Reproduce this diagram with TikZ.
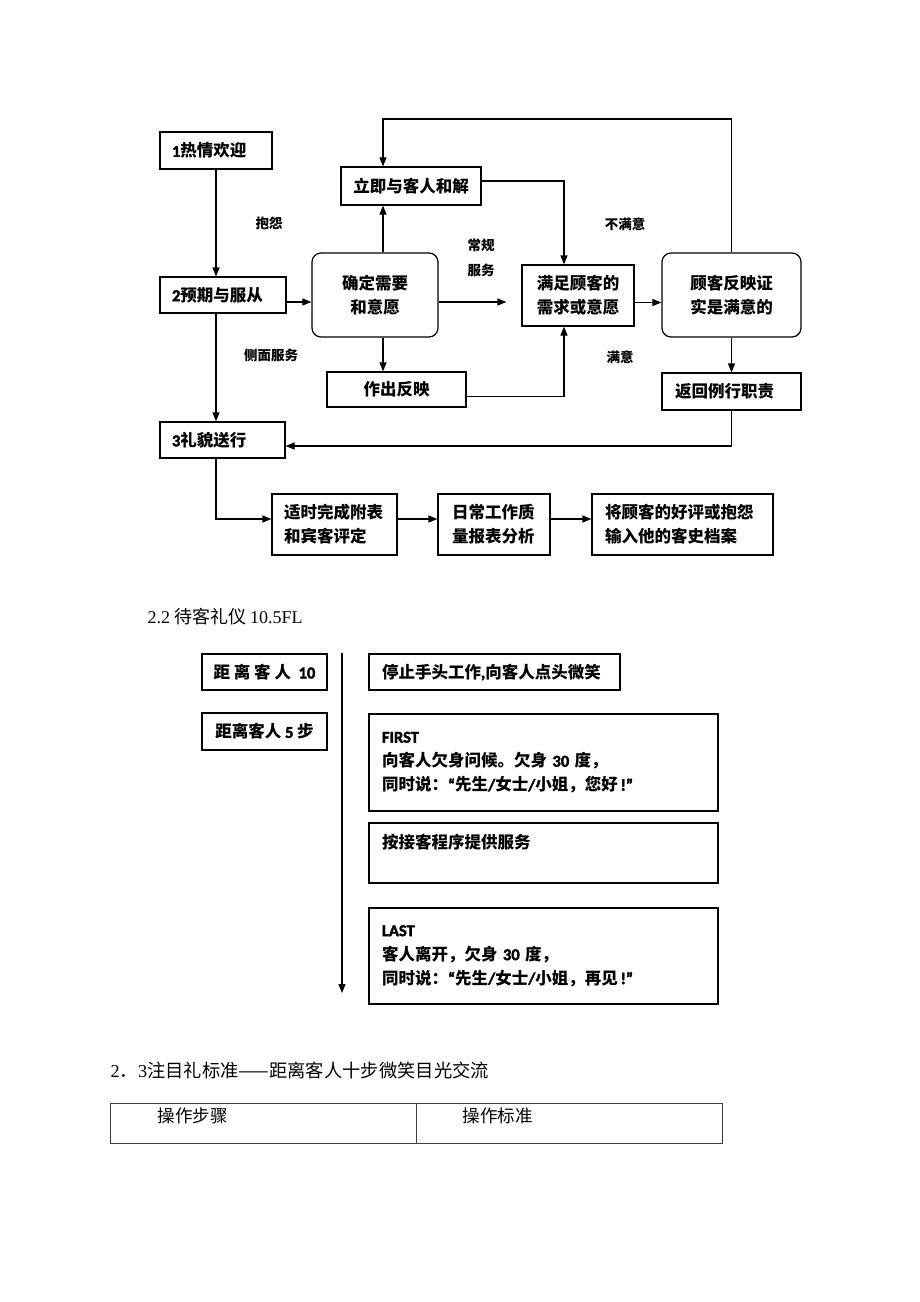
\documentclass[tikz,border=0pt]{standalone}
\usepackage{fontspec}
\setmainfont{Noto Sans CJK SC}
\newfontfamily\lat{Carlito}[FakeBold=2.2]
\newfontfamily\tnr{Liberation Serif}
\usetikzlibrary{arrows.meta}

\begin{document}
\begin{tikzpicture}[x=1pt,y=-1pt,>={Stealth[length=9pt,width=7pt,inset=0pt]},line width=1.2pt,
  box/.style={draw,inner sep=0pt,align=center,font=\fontsize{16.5}{24}\selectfont\bfseries},
  rbox/.style={box,rounded corners=9pt},
  lbox/.style={box,align=left,inner xsep=12pt},
  note/.style={inner sep=0pt,align=left,font=\fontsize{13.5}{25}\selectfont\bfseries},
  head/.style={inner sep=0pt,anchor=west,font=\fontsize{18.3}{22}\selectfont}]
\useasboundingbox (0,0) rectangle (920,1302);
\node[lbox,text width=88,minimum height=37] (welcome) at (216,150.5) {{\lat 1}热情欢迎};
\node[lbox,text width=102,minimum height=36] (obey) at (223,295) {{\lat 2}预期与服从};
\node[lbox,text width=101,minimum height=36] (polite) at (222.5,440) {{\lat 3}礼貌送行};
\node[rbox,minimum width=126,minimum height=84] (need) at (375,295) {确定需要\\和意愿};
\node[box,minimum width=140,minimum height=38] (reconcile) at (411,186) {立即与客人和解};
\node[box,minimum width=139,minimum height=35] (respond) at (396.5,389.5) {作出反映};
\node[box,minimum width=112,minimum height=61] (satisfy) at (578,295.5) {满足顾客的\\需求或意愿};
\node[rbox,minimum width=139,minimum height=84] (confirm) at (731.5,295) {顾客反映证\\实是满意的};
\node[lbox,inner xsep=13pt,text width=113,minimum height=37] (back) at (731.5,391.5) {返回例行职责};
\node[note] (complain) at (269,223) {抱怨};
\node[note] (routine) at (481,258) {常规\\服务};
\node[note] (side) at (271,355) {侧面服务};
\node[note] (unsat) at (625,224) {不满意};
\node[note] (sat) at (620,357) {满意};
\node[lbox,text width=101,minimum height=61] (fill) at (334.5,524.5) {适时完成附表\\和宾客评定};
\node[lbox,inner xsep=14pt,text width=84,minimum height=61] (daily) at (494,524.5) {日常工作质\\量报表分析};
\node[lbox,inner xsep=13pt,text width=155,minimum height=61] (record) at (682.5,524.5) {将顾客的好评或抱怨\\输入他的客史档案};
\coordinate (loop) at (383,119);
\draw[->] (welcome) -- (welcome |- obey.north);
\draw[->] ([yshift=-7pt]obey.east) -- ([yshift=-7pt]obey.east -| need.west);
\draw[->,shorten >=15pt] ([yshift=-7pt]need.east) -- ([yshift=-7pt]need.east -| satisfy.west);
\draw[->] ([yshift=-7pt]satisfy.east) -- ([yshift=-7pt]satisfy.east -| confirm.west);
\draw[->] ([xshift=8pt]need.north) -- ([xshift=8pt]need.north |- reconcile.south);
\draw[->] ([xshift=8pt]need.south) -- ([xshift=8pt]need.south |- respond.north);
\draw[->] ([yshift=5pt]reconcile.east) -| ([xshift=-14pt]satisfy.north);
\draw[->] ([yshift=-7pt]respond.east) -| ([xshift=-14pt]satisfy.south);
\draw[->] (confirm.north) |- (loop) -- (loop |- reconcile.north);
\draw[->] (confirm.south) -- (back.north);
\draw[->] (back.south) |- ([yshift=-6pt]polite.east);
\draw[->] (welcome |- obey.south) -- (welcome |- polite.north);
\draw[->] (welcome |- polite.south) |- ([yshift=5.5pt]fill.west);
\draw[->] ([yshift=5.5pt]fill.east) -- ([yshift=5.5pt]fill.east -| daily.west);
\draw[->] ([yshift=5.5pt]daily.east) -- ([yshift=5.5pt]daily.east -| record.west);

\node[head,font=\fontsize{18}{22}\selectfont] (title22) at (147,617) {{\tnr 2.2} 待客礼仪 {\tnr 10.5FL}};
\node[box,minimum width=125,minimum height=36] (far) at (264.5,672) {距 离 客 人 \ {\lat 10}};
\node[box,minimum width=125,minimum height=37] (near) at (264.5,731.5) {距离客人 {\lat 5} 步};
\node[lbox,inner xsep=13pt,text width=225,minimum height=36] (stop) at (494.5,672) {停止手头工作{\lat ,}向客人点头微笑};
\node[lbox,inner xsep=13pt,text width=323,minimum height=97] (first) at (543.5,762.5) {{\lat FIRST}\\向客人欠身问候。欠身 {\lat 30} 度，\\同时说：{\lat “}先生{\lat /}女士{\lat /}小姐，您好{\lat\,!”}};
\node[lbox,inner xsep=13pt,text width=323,minimum height=60] (serve) at (543.5,853) {按接客程序提供服务\\\mbox{}};
\node[lbox,inner xsep=13pt,text width=323,minimum height=96] (last) at (543.5,956) {{\lat LAST}\\客人离开，欠身 {\lat 30} 度，\\同时说：{\lat “}先生{\lat /}女士{\lat /}小姐，再见{\lat\,!”}};
\coordinate (ttop) at (342,653);
\coordinate (tend) at (342,993);
\draw[->] (ttop) -- (tend);

\node[head] (title23) at (110,1070) {{\tnr 2}．{\tnr 3}注目礼标准——距离客人十步微笑目光交流};
\draw[line width=0.9pt,black!75] (110,1103) rectangle (722,1143) (416,1103) -- (416,1143);
\node[head,font=\fontsize{17.5}{22}\selectfont] (steps) at (157,1116) {操作步骤};
\node[head,font=\fontsize{17.5}{22}\selectfont] (norms) at (462,1116) {操作标准};
\end{tikzpicture}
\end{document}
